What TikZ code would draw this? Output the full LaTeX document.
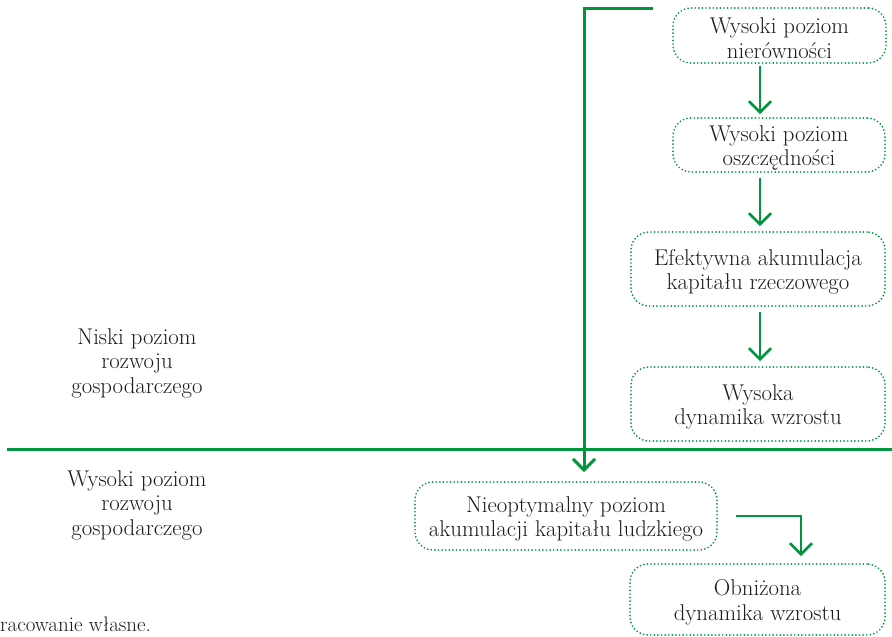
\documentclass[tikz,border=0pt]{standalone}
\usetikzlibrary{arrows.meta}
\definecolor{grn}{RGB}{0,150,62}
\definecolor{txt}{RGB}{30,26,27}
\newcommand\upstrut{\rule{0pt}{21.5pt}}
\tikzset{
  box/.style={draw=grn, line width=1.9pt, dash pattern=on 0pt off 3.6pt, line cap=round,
    rounded corners=18pt, align=center, text=txt, inner sep=0pt,
    font=\fontsize{22.8}{24.5}\selectfont},
  lbl/.style={align=center, text=txt, inner sep=0pt, font=\fontsize{22.8}{24.5}\selectfont},
  conn/.style={draw=grn, line width=2.6pt, -{Straight Barb[length=11pt,width=22pt]}},
  rule/.style={draw=grn, line width=3pt}
}
\begin{document}
\begin{tikzpicture}[x=1pt,y=-1pt]
\useasboundingbox (0,0) rectangle (892,637);
\node[box, minimum width=213pt, minimum height=55pt] (n1) at (779.5,35.5) {\upstrut Wysoki poziom\\nierówności};
\node[box, minimum width=212pt, minimum height=54pt] (n2) at (779,145) {\upstrut Wysoki poziom\\oszczędności};
\node[box, minimum width=254pt, minimum height=74pt] (n3) at (758,269) {\upstrut Efektywna akumulacja\\kapitału rzeczowego};
\node[box, minimum width=254pt, minimum height=74pt] (n4) at (758,404) {\upstrut Wysoka\\dynamika wzrostu};
\node[box, minimum width=302pt, minimum height=68pt] (n5) at (566,516) {\upstrut Nieoptymalny poziom\\akumulacji kapitału ludzkiego};
\node[box, minimum width=255pt, minimum height=71pt] (n6) at (757.5,599.5) {\upstrut Obniżona\\dynamika wzrostu};
\node[lbl] (low) at (137,363) {Niski poziom\\rozwoju\\gospodarczego};
\node[lbl] (high) at (137,505) {Wysoki poziom\\rozwoju\\gospodarczego};
\node[anchor=base west, text=txt, inner sep=0pt, font=\fontsize{21}{24}\selectfont] (src) at (0,631) {racowanie własne.};
\coordinate (dl) at (7,449);
\coordinate (dr) at (892,449);
\coordinate (lstart) at (653,8);
\draw[rule] (dl) -- (dr);
\draw[conn, shorten <=2pt, shorten >=3pt] ([xshift=-19.5pt]n1.south) -- ([xshift=-19.5pt]n1.south |- n2.north);
\draw[conn, shorten <=5pt, shorten >=5pt] ([xshift=-19pt]n2.south) -- ([xshift=-19pt]n2.south |- n3.north);
\draw[conn, shorten <=5pt, shorten >=5pt] ([xshift=2pt]n3.south) -- ([xshift=2pt]n4.north);
\draw[rule, line join=miter, -{Straight Barb[length=11pt,width=22pt]}, shorten >=9pt] (lstart) -| ([xshift=18pt]n5.north);
\draw[conn, line join=miter, shorten <=18pt, shorten >=7pt] (n5.east) -| ([xshift=43.5pt]n6.north);
\end{tikzpicture}
\end{document}
